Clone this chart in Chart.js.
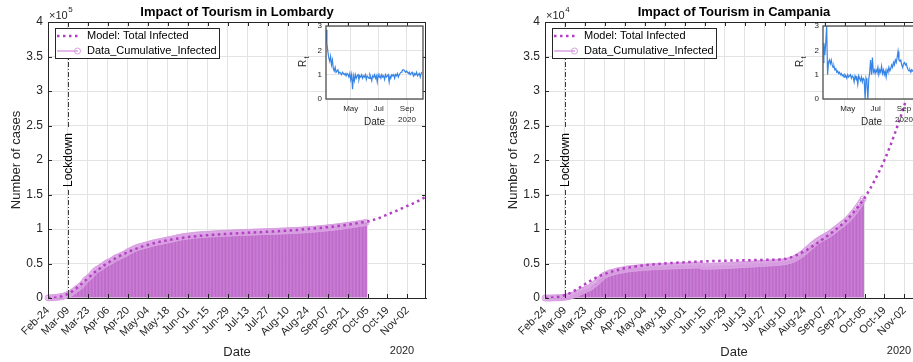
<!DOCTYPE html>
<html><head><meta charset="utf-8">
<script src="https://cdn.jsdelivr.net/npm/chart.js@4.4.1/dist/chart.umd.min.js"></script>
<style>
html,body{margin:0;padding:0;background:#fff;overflow:hidden;width:913px;height:362px;}
#wrap{position:relative;width:913px;height:362px;overflow:hidden;background:#fff;}
canvas{position:absolute;top:0;}
</style></head><body>
<div id="wrap">
<canvas id="m1" width="460" height="362" style="left:0px;width:460px;height:362px"></canvas>
<canvas id="i1" width="140" height="130" style="left:290px;width:140px;height:130px"></canvas>
<canvas id="m2" width="460" height="362" style="left:497px;width:460px;height:362px"></canvas>
<canvas id="i2" width="140" height="130" style="left:787px;width:140px;height:130px"></canvas>
</div>
<script>
// ---------- DATA ----------
const dateTicks = ['Feb-24','Mar-09','Mar-23','Apr-06','Apr-20','May-04','May-18','Jun-01','Jun-15','Jun-29','Jul-13','Jul-27','Aug-10','Aug-24','Sep-07','Sep-21','Oct-05','Oct-19','Nov-02'];
const lockdownDay = 14;      // Mar-09 (days since Feb-24)
const barStartDay = 14;
// Lombardy cumulative infected, daily from Feb-24 (day 0) to Oct-04 (day 223)
const lombardyData = [
172,240,258,403,531,615,984,1254,1520,1820,2251,2612,3420,4189,
5469,5791,7280,8725,9820,11685,13272,
14649,16220,17713,19884,22264,25515,27206,
28761,30703,32346,34889,37298,39415,41007,
42161,43208,44773,46065,47520,49118,50455,
51534,52325,53414,54802,56048,57592,58729,
59052,60314,61326,62153,63094,64135,65381,
66971,67931,68929,69868,71156,71880,72889,
73479,74290,74789,75134,75689,76469,77002,
77528,78105,78605,79369,79874,80089,80723,
81225,81507,81871,82354,82904,83298,83820,
84119,84518,84831,85481,85775,86091,86825,
87417,87801,88183,88537,88968,89018,89526,
89665,89953,90070,90482,90741,91017,91195,
91351,91521,91698,91928,92060,92174,92268,
92411,92556,92675,92800,92913,93014,93173,
93310,93400,93500,93600,93710,93830,93900,
94000,94100,94180,94270,94360,94440,94520,
94600,94680,94760,94850,94940,95020,95100,
95190,95260,95340,95420,95500,95580,95650,
95730,95800,95880,95960,96030,96120,96200,
96280,96350,96430,96500,96580,96650,96730,
96800,96880,96960,97050,97140,97230,97320,
97420,97500,97590,97680,97780,97880,97990,
98100,98220,98340,98470,98600,98740,98880,
99030,99180,99340,99500,99670,99840,100020,
100200,100390,100580,100780,100980,101190,101400,
101620,101840,102070,102300,102540,102780,103030,
103280,103540,103800,104070,104340,104620,104900,
105190,105480,105780,106080,106390,106700,107020,
107340,107670,108000,108340,108680,109030,109380];
const lombardyModelDays = [0,7,14,21,28,35,42,49,56,63,70,77,84,91,98,105,112,119,126,133,140,147,154,161,168,175,182,189,196,203,210,217,224,231,238,245,252,259,265];
const lombardyModel = [0,1200,6000,16000,29000,41000,51000,59500,66500,72500,77000,80800,83800,86200,88200,89800,91000,92100,93000,93800,94600,95300,96000,96800,97700,98700,99900,101200,102700,104400,106300,108500,111000,115000,121000,127000,133500,140000,147000];

// Campania cumulative infected, daily from Feb-24 (day 0) to Oct-04 (day 223)
const campaniaData = [
0,0,3,3,4,13,17,17,30,31,31,47,79,79,
120,154,179,220,292,400,440,
460,632,708,844,929,1026,1101,
1199,1310,1401,1454,1592,1759,1916,
2092,2231,2456,2665,2809,3040,3230,
3311,3437,3507,3592,3679,3735,3761,
3808,3856,3948,3988,4014,4045,4076,
4120,4172,4201,4231,4244,4270,4292,
4309,4333,4352,4377,4395,4408,4423,
4433,4449,4470,4487,4501,4515,4523,
4535,4546,4553,4565,4576,4584,4592,
4601,4609,4617,4627,4634,4639,4646,
4650,4657,4669,4679,4685,4694,4702,
4712,4720,4725,4731,4736,4740,4750,
4760,4766,4771,4775,4776,4596,4599,
4604,4606,4608,4611,4615,4619,4625,
4632,4638,4643,4650,4656,4662,4670,
4680,4690,4700,4712,4725,4738,4752,
4765,4778,4790,4800,4812,4826,4840,
4852,4864,4876,4888,4900,4912,4925,
4938,4950,4962,4975,4990,5002,5015,
5028,5040,5053,5066,5080,5094,5108,
5122,5138,5154,5172,5192,5214,5238,
5265,5300,5345,5400,5465,5540,5625,
5720,5830,5950,6080,6220,6370,6530,
6700,6880,7060,7240,7420,7600,7780,
7950,8110,8260,8400,8530,8650,8770,
8880,8990,9110,9240,9380,9530,9690,
9850,10010,10170,10330,10490,10650,10810,
10980,11160,11350,11560,11790,12030,12280,
12540,12810,13090,13380,13690,14020,14370];
const campaniaModelDays = [0,7,14,21,28,35,42,49,56,63,70,77,84,91,98,105,112,119,126,133,140,147,154,161,168,175,182,189,196,203,210,217,224,231,238,245,252,259,265];
const campaniaModel = [0,100,400,1100,2000,2850,3500,3950,4300,4550,4750,4900,5000,5100,5180,5250,5310,5360,5400,5440,5470,5500,5530,5560,5650,6100,6800,7700,8700,9800,11000,12600,14500,17000,20000,23700,28000,33000,37500];

// Rt, every 2 days from day 13 (Mar-08) to day 223 (Oct-04)
const rtStartDay = 13, rtStepDays = 2;
const lombardyRt = [
2.85,2.3,1.95,1.7,1.55,1.75,1.4,1.6,1.25,1.15,
1.3,1.1,1.1,1.2,1.05,1.1,1.05,1.0,1.1,1.05,
1.0,1.05,0.95,1.05,1.0,0.9,1.05,0.8,1.0,0.4,
0.95,0.75,1.0,0.85,0.95,1.0,0.8,0.95,0.9,1.0,
0.85,0.95,0.9,1.0,0.8,0.95,0.9,0.85,1.0,0.9,
0.75,0.95,0.9,1.0,0.85,0.95,0.7,1.0,0.9,0.95,
0.85,1.0,0.9,0.95,0.8,1.0,0.9,0.95,1.0,0.7,
0.95,0.9,1.0,0.95,1.0,0.85,1.0,0.95,1.05,0.9,
1.0,1.05,1.1,1.15,1.2,1.2,1.15,1.1,1.15,1.1,
1.05,1.1,1.0,1.05,1.1,1.0,0.95,1.05,1.0,1.1,
0.95,1.0,1.05,0.9,1.05,1.1];
const campaniaRt = [
1.5,2.3,1.8,2.3,3.0,1.0,1.5,1.6,1.45,1.6,
1.4,1.3,1.35,1.2,1.25,1.1,1.15,1.05,1.1,1.0,
1.05,0.95,1.0,0.9,1.0,0.95,0.85,1.0,0.9,0.95,
1.0,0.85,0.95,0.9,0.7,0.95,0.85,0.9,0.6,0.95,
0.85,0.75,0.9,0.7,0.85,0.8,0.0,0.85,0.7,0.0,
0.8,1.1,1.6,1.0,1.7,1.1,1.2,1.05,1.2,1.1,
1.3,1.0,1.2,1.1,1.35,1.05,1.2,1.0,1.15,0.9,
1.2,1.1,1.3,1.15,1.25,1.4,1.3,1.5,1.4,1.6,
1.5,1.7,1.95,1.6,1.55,1.6,1.4,1.3,1.45,1.5,
1.4,1.45,1.3,1.2,1.15,1.2,1.1,1.2,1.15,1.2,
1.1,1.2,1.15,1.2,1.1,1.15];
const insetTickDays = [67,128,190];
const insetTickLabels = ['May','Jul','Sep'];

// ---------- STYLE ----------
const FONT = '"Liberation Sans", Arial, Helvetica, sans-serif';
const AX = '#262626';
const GRID = '#e3e3e3';
const MODEL_COLOR = '#b23fc3';
const DATA_COLOR = '#d9a0e2';
const BAR_FILL = '#c97fd3';
const BAR_EDGE = '#b457c3';
const RT_COLOR = '#3584e6';
Chart.defaults.font.family = FONT;
Chart.defaults.color = AX;

const mainDecor = {
  id: 'mainDecor',
  afterDatasetsDraw(chart, args, o) {
    const ctx = chart.ctx, a = chart.chartArea, xs = chart.scales.x;
    const lx = Math.round(xs.getPixelForValue(lockdownDay)) + 0.5;
    const cy = (a.top + a.bottom) / 2;
    ctx.save();
    ctx.strokeStyle = '#3a3a3a'; ctx.lineWidth = 1; ctx.setLineDash([5, 2, 1, 2]);
    ctx.beginPath(); ctx.moveTo(lx, a.top); ctx.lineTo(lx, cy - 31); ctx.stroke();
    ctx.beginPath(); ctx.moveTo(lx, cy + 30); ctx.lineTo(lx, a.bottom); ctx.stroke();
    ctx.setLineDash([]);
    ctx.translate(lx, cy); ctx.rotate(-Math.PI / 2);
    ctx.fillStyle = '#000'; ctx.font = '12px ' + FONT; ctx.textAlign = 'center'; ctx.textBaseline = 'middle';
    ctx.fillText('Lockdown', 0, 0);
    ctx.restore();
  },
  afterDraw(chart, args, o) {
    const ctx = chart.ctx, a = chart.chartArea, xs = chart.scales.x, ys = chart.scales.y;
    ctx.save();
    // box + inward ticks
    ctx.strokeStyle = AX; ctx.lineWidth = 1;
    ctx.beginPath();
    ctx.moveTo(a.left, a.top + 0.5); ctx.lineTo(a.right, a.top + 0.5);
    ctx.moveTo(a.right - 0.5, a.top); ctx.lineTo(a.right - 0.5, a.bottom);
    xs.ticks.forEach(t => { const p = Math.round(xs.getPixelForValue(t.value)) + 0.5;
      ctx.moveTo(p, a.bottom); ctx.lineTo(p, a.bottom - 4); ctx.moveTo(p, a.top); ctx.lineTo(p, a.top + 4); });
    ys.ticks.forEach(t => { const p = Math.round(ys.getPixelForValue(t.value)) + 0.5;
      ctx.moveTo(a.left, p); ctx.lineTo(a.left + 4, p); ctx.moveTo(a.right, p); ctx.lineTo(a.right - 4, p); });
    ctx.stroke();
    const cx = (a.left + a.right) / 2;
    // title
    ctx.fillStyle = '#000'; ctx.textAlign = 'center'; ctx.textBaseline = 'middle';
    ctx.font = 'bold 13px ' + FONT; ctx.fillText(o.title, cx, 12);
    // axis labels
    ctx.fillStyle = AX; ctx.font = '13px ' + FONT;
    ctx.fillText('Date', cx, 352);
    ctx.font = '11px ' + FONT; ctx.fillText('2020', a.right - 24, 351);
    ctx.save(); ctx.translate(16, (a.top + a.bottom) / 2); ctx.rotate(-Math.PI / 2);
    ctx.font = '13px ' + FONT; ctx.fillText('Number of cases', 0, 0); ctx.restore();
    // exponent
    ctx.textAlign = 'left'; ctx.textBaseline = 'alphabetic';
    ctx.font = '11px ' + FONT; ctx.fillText('\u00d710', a.left + 1, 19);
    const w = ctx.measureText('\u00d710').width;
    ctx.font = '8px ' + FONT; ctx.fillText(o.exp, a.left + 1 + w + 0.5, 12);
    // legend
    const lx0 = a.left + 7, ly0 = a.top + 6;
    ctx.fillStyle = '#fff'; ctx.fillRect(lx0, ly0, 164, 30);
    ctx.strokeStyle = AX; ctx.lineWidth = 1; ctx.strokeRect(lx0 + 0.5, ly0 + 0.5, 164, 30);
    ctx.strokeStyle = MODEL_COLOR; ctx.lineWidth = 2.5; ctx.setLineDash([2.5, 3.5]);
    ctx.beginPath(); ctx.moveTo(lx0 + 2, ly0 + 8); ctx.lineTo(lx0 + 26, ly0 + 8); ctx.stroke();
    ctx.setLineDash([]);
    ctx.strokeStyle = DATA_COLOR; ctx.lineWidth = 1.5;
    ctx.beginPath(); ctx.moveTo(lx0 + 2, ly0 + 23); ctx.lineTo(lx0 + 23, ly0 + 23); ctx.stroke();
    ctx.lineWidth = 1; ctx.beginPath(); ctx.arc(lx0 + 22.5, ly0 + 23, 3, 0, Math.PI * 2); ctx.stroke();
    ctx.fillStyle = '#000'; ctx.font = '11px ' + FONT; ctx.textBaseline = 'middle';
    ctx.fillText('Model: Total Infected', lx0 + 32, ly0 + 8);
    ctx.fillText('Data_Cumulative_Infected', lx0 + 32, ly0 + 23);
    ctx.restore();
  }
};

function mainChart(id, data, modelDays, model, ymax, scale, title, exp) {
  const pts = data.map((v, i) => ({x: i, y: v}));
  const bars = pts.filter(p => p.x >= barStartDay);
  const mod = modelDays.map((d, i) => ({x: d, y: model[i]}));
  return new Chart(document.getElementById(id), {
    data: {datasets: [
      {type: 'line', label: 'Model: Total Infected', data: mod, borderColor: MODEL_COLOR, borderWidth: 2.5,
        borderDash: [2.5, 3.5], pointRadius: 0, cubicInterpolationMode: 'monotone', order: 0},
      {type: 'line', label: 'Data_Cumulative_Infected', data: pts, borderColor: DATA_COLOR, borderWidth: 1.5,
        pointRadius: 3, pointBorderColor: DATA_COLOR, pointBackgroundColor: 'rgba(0,0,0,0)', pointBorderWidth: 1,
        order: 1, clip: 6},
      {type: 'bar', label: 'bars', data: bars, backgroundColor: BAR_FILL, borderColor: BAR_EDGE, borderWidth: 0.4,
        barPercentage: 1, categoryPercentage: 1, order: 2}
    ]},
    options: {
      responsive: false, animation: false, events: [],
      layout: {padding: {left: 0, top: 22, right: 34, bottom: 0}},
      plugins: {legend: {display: false}, tooltip: {enabled: false}, mainDecor: {title: title, exp: exp}},
      scales: {
        x: {type: 'linear', min: 0, max: 265, offset: false,
          grid: {color: GRID, drawTicks: false, offset: false}, border: {color: AX, width: 1},
          ticks: {stepSize: 14, includeBounds: false, autoSkip: false, maxRotation: 45, minRotation: 45,
            padding: 6, color: AX, font: {size: 11, family: FONT},
            callback: v => dateTicks[Math.round(v / 14)]},
          afterFit: s => { s.height = 64; }},
        y: {min: 0, max: ymax,
          grid: {color: GRID, drawTicks: false}, border: {color: AX, width: 1},
          ticks: {stepSize: ymax / 8, padding: 5, color: AX, font: {size: 12, family: FONT},
            callback: v => String(Math.round(v / scale * 10) / 10)},
          afterFit: s => { s.width = 48; }}
      }
    },
    plugins: [mainDecor]
  });
}

const insetDecor = {
  id: 'insetDecor',
  beforeDraw(chart) {
    const ctx = chart.ctx, a = chart.chartArea;
    ctx.save(); ctx.fillStyle = '#fff'; ctx.fillRect(a.left, a.top, a.right - a.left, a.bottom - a.top); ctx.restore();
  },
  afterDraw(chart) {
    const ctx = chart.ctx, a = chart.chartArea, xs = chart.scales.x;
    ctx.save();
    ctx.strokeStyle = '#4d4d4d'; ctx.lineWidth = 1.3;
    ctx.strokeRect(a.left, a.top, a.right - a.left, a.bottom - a.top);
    ctx.fillStyle = AX; ctx.textAlign = 'center'; ctx.textBaseline = 'middle';
    ctx.font = '10px ' + FONT; ctx.fillText('Date', (a.left + a.right) / 2, a.bottom + 23);
    ctx.font = '8px ' + FONT; ctx.fillText('2020', xs.getPixelForValue(insetTickDays[2]), a.bottom + 21);
    ctx.translate(a.left - 23, (a.top + a.bottom) / 2); ctx.rotate(-Math.PI / 2);
    ctx.font = '10px ' + FONT; ctx.fillText('R', -1, 0);
    ctx.font = '7px ' + FONT; ctx.fillText('t', 5, 4);
    ctx.restore();
  }
};

function insetChart(id, rt) {
  const pts = rt.map((v, i) => ({x: rtStartDay + i * rtStepDays, y: v}));
  return new Chart(document.getElementById(id), {
    type: 'line',
    data: {datasets: [{data: pts, borderColor: RT_COLOR, borderWidth: 1.2, pointRadius: 0, tension: 0}]},
    options: {
      responsive: false, animation: false, events: [],
      layout: {padding: {left: 0, top: 26, right: 7, bottom: 0}},
      plugins: {legend: {display: false}, tooltip: {enabled: false}},
      scales: {
        x: {type: 'linear', min: 13, max: 225,
          afterBuildTicks: s => { s.ticks = insetTickDays.map(v => ({value: v})); },
          grid: {color: GRID, drawTicks: false}, border: {display: false},
          ticks: {maxRotation: 0, autoSkip: false, padding: 5, color: AX, font: {size: 8, family: FONT},
            callback: (v, i) => insetTickLabels[i]},
          afterFit: s => { s.height = 31; }},
        y: {min: 0, max: 3,
          grid: {color: GRID, drawTicks: false}, border: {display: false},
          ticks: {stepSize: 1, padding: 4, color: AX, font: {size: 8, family: FONT}},
          afterFit: s => { s.width = 36; }}
      }
    },
    plugins: [insetDecor]
  });
}

mainChart('m1', lombardyData, lombardyModelDays, lombardyModel, 400000, 100000, 'Impact of Tourism in Lombardy', '5');
mainChart('m2', campaniaData, campaniaModelDays, campaniaModel, 40000, 10000, 'Impact of Tourism in Campania', '4');
insetChart('i1', lombardyRt);
insetChart('i2', campaniaRt);
</script>
</body></html>
